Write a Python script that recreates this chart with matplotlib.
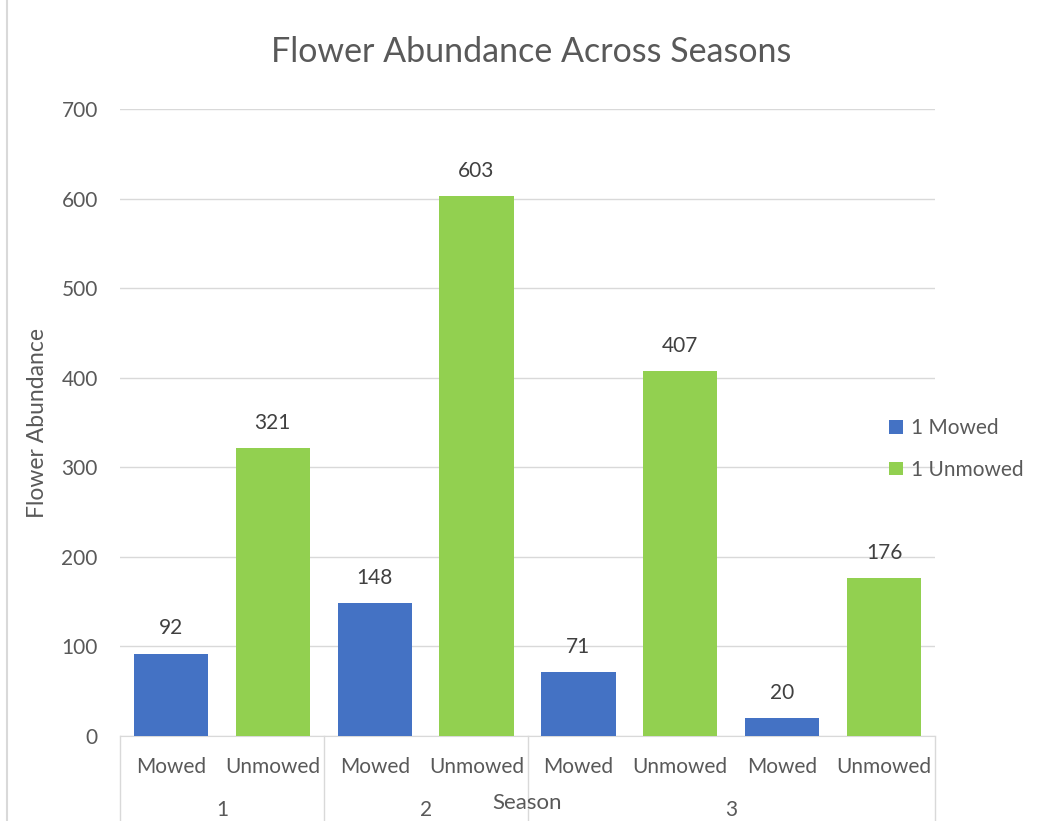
import matplotlib.pyplot as plt
import matplotlib.transforms as mtransforms

# data
sub_labels = ["Mowed", "Unmowed", "Mowed", "Unmowed", "Mowed", "Unmowed", "Mowed", "Unmowed"]
values = [92, 321, 148, 603, 71, 407, 20, 176]
group_names = ["1", "2", "3"]
group_sizes = [2, 2, 4]
legend_names = {"Mowed": "1 Mowed", "Unmowed": "1 Unmowed"}
colors = {"Mowed": "#4472C4", "Unmowed": "#92D050"}

plt.rcParams["font.family"] = ["Lato", "DejaVu Sans"]
text_color = "#595959"
grid_color = "#d9d9d9"
fs = 15

fig = plt.figure(figsize=(10.46, 8.21), dpi=100)
ax = fig.add_axes([120 / 1046, 1 - 736 / 821, 815 / 1046, 627 / 821])

for kind in ["Mowed", "Unmowed"]:
    xs = [i for i, s in enumerate(sub_labels) if s == kind]
    ys = [values[i] for i in xs]
    bars = ax.bar(xs, ys, width=0.73, color=colors[kind], label=legend_names[kind], zorder=3)
    for b in bars:
        ax.annotate(
            f"{int(b.get_height())}",
            (b.get_x() + b.get_width() / 2, b.get_height()),
            xytext=(0, 11), textcoords="offset points",
            ha="center", va="bottom", fontsize=fs, color="#404040"
        )

ax.set_xlim(-0.5, len(values) - 0.5)
ax.set_ylim(0, 700)
ax.set_yticks(range(0, 701, 100))
ax.yaxis.grid(True, color=grid_color, linewidth=1, zorder=0)
ax.tick_params(axis="y", length=0, pad=16, labelsize=fs, labelcolor=text_color)

ax.set_xticks(range(len(values)))
ax.set_xticklabels(sub_labels)
ax.tick_params(axis="x", length=0, pad=15, labelsize=fs, labelcolor=text_color)

for side in ["top", "right", "left"]:
    ax.spines[side].set_visible(False)
ax.spines["bottom"].set_color(grid_color)

# group separators and group labels
trans = mtransforms.blended_transform_factory(ax.transData, ax.transAxes)
pos = -0.5
edges = [pos]
for name, size in zip(group_names, group_sizes):
    ax.text(pos + size / 2, -0.118, name, transform=trans, ha="center", va="center",
            fontsize=fs, color=text_color, clip_on=False)
    pos += size
    edges.append(pos)
for e in edges:
    ax.plot([e, e], [0, -0.2], transform=trans, color=grid_color, linewidth=1, clip_on=False)

ax.text(0.5, -0.107, "Season", transform=ax.transAxes, ha="center", va="center",
        fontsize=16, color=text_color)
ax.set_ylabel("Flower Abundance", fontsize=16.5, color=text_color, labelpad=10)

fig.text(531 / 1046, 1 - 52 / 821, "Flower Abundance Across Seasons", ha="center", va="center",
         fontsize=24.5, color=text_color)

ax.legend(loc="center left", bbox_to_anchor=(0.944, 0.458), frameon=False, fontsize=fs,
          labelcolor=text_color, handlelength=0.65, handleheight=0.65, handletextpad=0.4,
          labelspacing=1.05, borderpad=0, borderaxespad=0)

# chart frame line on the left
fig.add_artist(plt.Line2D([7 / 1046, 7 / 1046], [0, 1], color=grid_color, linewidth=1.5))

fig.savefig("out.png", dpi=100)
